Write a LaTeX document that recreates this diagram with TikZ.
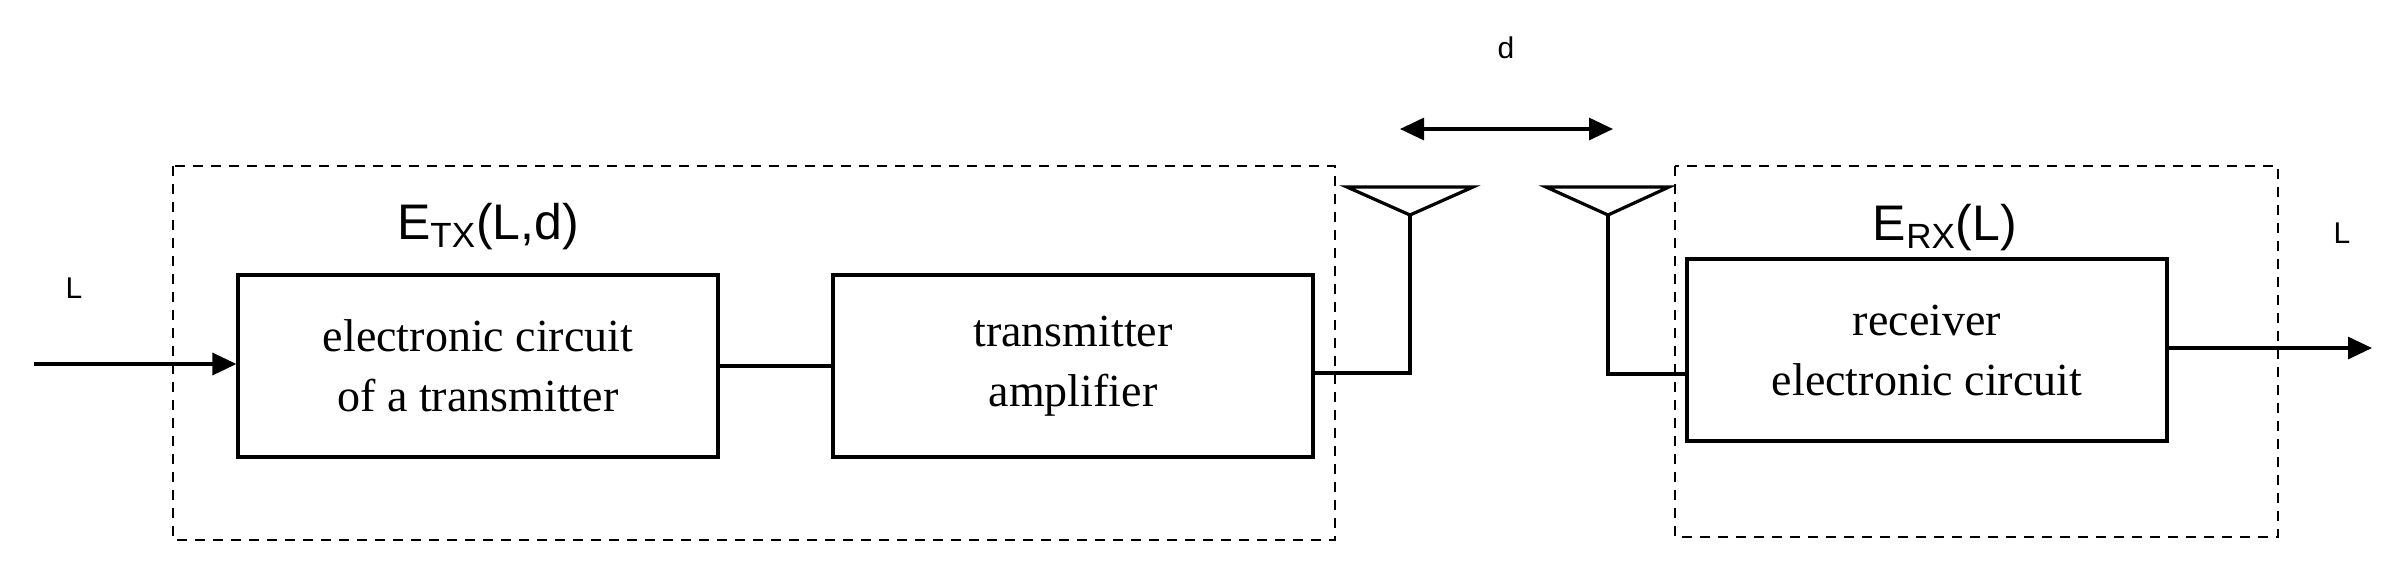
\documentclass[tikz,border=0pt]{standalone}
\usepackage{fontspec}
\setmainfont{Liberation Serif}
\newfontfamily\sans{Liberation Sans}
\usetikzlibrary{arrows.meta}
\begin{document}
\begin{tikzpicture}[x=0.5pt,y=-0.5pt,
  blk/.style={draw,line width=1.6pt,inner sep=0pt,align=center,font=\fontsize{23}{30}\selectfont},
  grp/.style={draw,dashed,line width=1.3pt,dash pattern=on 5pt off 4pt},
  wire/.style={line width=1.6pt},
  arr/.style={wire,-{Triangle[length=12pt,width=11pt]}},
  lab/.style={font=\sans\fontsize{15}{17}\selectfont},
  big/.style={font=\sans\fontsize{25}{28}\selectfont}]
\useasboundingbox (0,0) rectangle (2406,570);
\draw[grp] (173,166) rectangle (1335,540);
\draw[grp] (1675,166) rectangle (2278,537);
\node[blk,minimum width=240pt,minimum height=91pt] (c1) at (478,366) {electronic circuit\\of a transmitter};
\node[blk,minimum width=240pt,minimum height=91pt] (c2) at (1073,366) {transmitter\\amplifier};
\node[blk,minimum width=240pt,minimum height=91pt] (c3) at (1927,350) {receiver\\electronic circuit};
\node[big] (etx) at (488,227) {E\textsubscript{TX}(L,d)};
\node[big] (erx) at (1945,228) {E\textsubscript{RX}(L)};
\node[lab] (lin) at (74,288) {L};
\node[lab] (lout) at (2342,233) {L};
\node[lab] (dl) at (1506,48) {d};
\coordinate (in) at (34,364);
\coordinate (out) at (2372,348);
\draw[arr] (in) -- (c1.west|-in);
\draw[arr] (c3.east|-out) -- (out);
\draw[wire] (c1.east) -- (c2.west);
% antennas
\coordinate (ta) at (1410,215);
\coordinate (ra) at (1608,215);
\draw[wire] (1347,187) -- (1473,187) -- (ta) -- cycle;
\draw[wire] (1546,187) -- (1669,187) -- (ra) -- cycle;
\draw[wire] (c2.east|-0,373) -| (ta);
\draw[wire] (c3.west|-0,374) -| (ra);
\coordinate (d1) at (1400,129);
\coordinate (d2) at (1613,129);
\draw[wire,{Triangle[length=12pt,width=11pt]}-{Triangle[length=12pt,width=11pt]}] (d1) -- (d2);
\end{tikzpicture}
\end{document}
